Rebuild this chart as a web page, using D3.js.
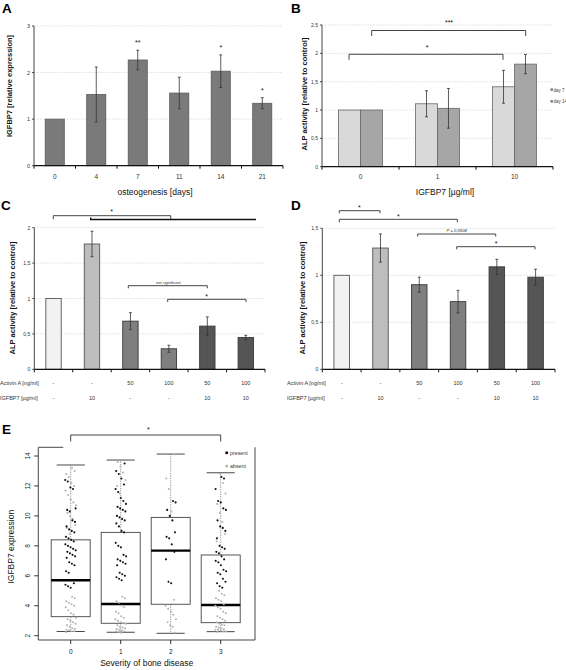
<!DOCTYPE html>
<html><head><meta charset="utf-8">
<script src="https://cdn.jsdelivr.net/npm/d3@7"></script>
<style>body{margin:0;background:#fff}svg{font-family:"Liberation Sans",Arial,sans-serif;display:block}</style>
</head><body><svg id="c" width="566" height="670"></svg>
<script>
// ---------- DATA ----------
const aDays = ["0","4","7","11","14","21"];
const aMean = [1.0,1.53,2.27,1.56,2.03,1.34];
const aErr  = [0,0.59,0.21,0.34,0.35,0.12];
const aStars = ["","","**","","*","*"];
const aTicks = [0,1,2,3];

const bDoses = ["0","1","10"];
const bSeries = ["day 7","day 14"];
const bDay7 = [1.0,1.11,1.41];
const bDay7Err = [0,0.23,0.29];
const bDay14 = [1.0,1.03,1.81];
const bDay14Err = [0,0.35,0.17];
const bTicks = [0,0.5,1,1.5,2,2.5];

const cdActivin = ["-","-","50","100","50","100"];
const cdIgfbp = ["-","10","-","-","10","10"];
const cMean = [1.0,1.77,0.68,0.29,0.61,0.45];
const cErr  = [0,0.18,0.12,0.05,0.13,0.03];
const cTicks = [0,0.5,1,1.5,2];
const dMean = [1.0,1.29,0.90,0.72,1.09,0.98];
const dErr  = [0,0.15,0.08,0.12,0.08,0.085];
const dTicks = [0,0.5,1,1.5];

const eGroups = ["0","1","2","3"];
const eLo  = [2.28,2.23,2.16,2.27];
const eQ1  = [3.27,2.83,4.10,2.87];
const eMed = [5.70,4.12,7.68,4.05];
const eQ3  = [8.40,8.90,9.90,7.39];
const eHi  = [13.4,13.73,14.13,12.88];
const eTicks = [2,4,6,8,10,12,14];
const ePresent = [
 [12.4,12.3,11.9,11.8,10.5,10.4,10.3,9.7,9.6,9.3,9.1,9.0,8.9,8.6,8.5,8.4,8.3,8.1,8.0,7.9,7.8,7.7,7.6,7.5,7.4,7.3,7.2,6.9,6.8,6.7,6.3,6.2,5.7,5.5,5.4,5.3,5.2],
 [13.5,13.0,12.8,12.5,12.1,11.8,11.6,11.2,11.0,10.8,10.6,10.5,10.4,10.3,10.0,9.9,9.8,9.7,9.5,9.3,9.0,8.9,8.2,8.0,7.9,7.4,7.3,7.1,7.0,6.9,6.8,6.7,6.2,6.1,6.0,5.9,5.8,5.7],
 [11.0,10.9,10.4,10.0,9.7,8.9,8.6,8.5,8.1,7.6,7.1,5.6,5.5],
 [12.6,12.5,11.8,11.0,10.9,10.5,10.4,9.7,9.3,9.2,9.0,8.5,8.0,7.9,7.8,7.6,7.5,7.3,7.1,7.0,6.9,6.7,6.4,6.3,6.2,6.1,5.8,5.6,5.5,5.3,5.2]
];
const eAbsent = [
 [13.2,13.0,12.8,12.6,12.2,12.0,11.7,11.4,11.1,10.9,10.7,10.2,10.0,9.8,9.4,9.2,8.8,4.6,4.5,4.3,4.2,4.1,4.0,3.9,3.7,3.5,3.4,3.2,3.1,3.0,2.9,2.8,2.7,2.6,2.5,2.45,2.4,2.35,2.3,2.3,2.25],
 [13.6,13.3,12.9,12.4,12.0,11.5,4.6,4.5,4.3,4.2,4.0,3.9,3.6,3.5,3.3,3.2,3.1,3.0,2.9,2.85,2.8,2.7,2.6,2.55,2.5,2.45,2.4,2.35,2.3,2.3,2.25,2.2],
 [14.1,12.5,11.8,10.3,4.4,4.0,3.8,3.6,3.4,3.1,2.9,2.7,2.6,2.2],
 [12.8,12.2,11.5,10.8,10.2,9.6,8.8,8.3,5.0,4.8,4.7,4.5,4.4,4.3,4.1,4.0,3.9,3.8,3.6,3.5,3.3,3.2,3.1,3.0,2.9,2.8,2.75,2.7,2.6,2.55,2.5,2.45,2.4,2.4,2.35,2.3,2.3,2.25]
];

// ---------- HELPERS ----------
const svg = d3.select("#c");
const fmt = d => String(d).replace(".", ",");
const TXT = "#333";

function letter(t, x, y){ svg.append("text").attr("x",x).attr("y",y).attr("font-size",13.5).attr("font-weight","bold").text(t); }
function grid(y, x0, x1, ticks){
  svg.append("g").selectAll("line").data(ticks.filter(t=>t>0)).join("line")
    .attr("x1",x0).attr("x2",x1).attr("y1",d=>y(d)).attr("y2",d=>y(d))
    .attr("stroke","#cfcfcf").attr("stroke-width",0.7).attr("stroke-dasharray","1.5,1.5");
}
function yAxis(y, x0, ticks, fs){
  const g = svg.append("g");
  g.append("line").attr("x1",x0).attr("x2",x0).attr("y1",y(0)).attr("y2",y(d3.max(ticks))).attr("stroke","#444").attr("stroke-width",1);
  g.selectAll(".t").data(ticks).join("line").attr("x1",x0-2).attr("x2",x0).attr("y1",d=>y(d)).attr("y2",d=>y(d)).attr("stroke","#444");
  g.selectAll("text").data(ticks).join("text").attr("x",x0-4).attr("y",d=>y(d)+2).attr("text-anchor","end")
    .attr("font-size",fs||5.5).attr("fill",TXT).text(d=>fmt(d));
}
function xAxis(x, yb){
  const g = svg.append("g");
  const r = x.range(), n = x.domain().length, st = x.step();
  g.append("line").attr("x1",r[0]).attr("x2",r[1]).attr("y1",yb).attr("y2",yb).attr("stroke","#111").attr("stroke-width",1.2);
  g.selectAll("line.t").data(d3.range(n+1)).join("line").attr("class","t")
    .attr("x1",i=>r[0]+i*st).attr("x2",i=>r[0]+i*st).attr("y1",yb).attr("y2",yb+3).attr("stroke","#111");
}
function err(cx, y1, y2){
  const g = svg.append("g").attr("stroke","#333").attr("stroke-width",0.8);
  g.append("line").attr("x1",cx).attr("x2",cx).attr("y1",y1).attr("y2",y2);
  g.append("line").attr("x1",cx-1.5).attr("x2",cx+1.5).attr("y1",y1).attr("y2",y1);
  g.append("line").attr("x1",cx-1.5).attr("x2",cx+1.5).attr("y1",y2).attr("y2",y2);
}
function bracket(x1, x2, y, d1, d2, w, col){
  svg.append("path").attr("d",`M${x1},${y+d1}V${y}H${x2}V${y+d2}`).attr("fill","none")
    .attr("stroke",col||"#444").attr("stroke-width",w||1);
}
function label(t, x, y, fs, opts){
  const s = svg.append("text").attr("x",x).attr("y",y).attr("font-size",fs).attr("text-anchor",(opts&&opts.anchor)||"middle").attr("fill",(opts&&opts.fill)||"#111").text(t);
  if(opts&&opts.bold) s.attr("font-weight","bold");
  if(opts&&opts.italic) s.attr("font-style","italic");
  return s;
}
function vlabel(t, x, y, fs, bold){
  svg.append("text").attr("transform",`translate(${x},${y}) rotate(-90)`).attr("text-anchor","middle")
    .attr("dominant-baseline","middle").attr("font-size",fs).attr("font-weight",bold?"bold":"normal").attr("fill","#111").text(t);
}

// ---------- PANEL A ----------
letter("A", 2, 12.7);
{
  const x = d3.scaleBand().domain(aDays).range([34, 283]).paddingInner(0.54).paddingOuter(0.27);
  const y = d3.scaleLinear().domain([0,3]).range([165.7, 26]);
  grid(y, 34, 283, aTicks);
  svg.append("g").selectAll("rect").data(aDays).join("rect")
    .attr("x",d=>x(d)).attr("width",x.bandwidth()).attr("y",(d,i)=>y(aMean[i])).attr("height",(d,i)=>y(0)-y(aMean[i]))
    .attr("fill","#7a7a7a").attr("stroke","#5a5a5a").attr("stroke-width",0.8);
  aDays.forEach((d,i)=>{ if(aErr[i]>0) err(x(d)+x.bandwidth()/2, y(aMean[i]+aErr[i]), y(aMean[i]-aErr[i])); });
  aDays.forEach((d,i)=>{ if(aStars[i]) label(aStars[i], x(d)+x.bandwidth()/2, y(aMean[i]+aErr[i])-5, 7); });
  xAxis(x, y(0));
  yAxis(y, 34, aTicks);
  svg.append("g").selectAll("text").data(aDays).join("text").attr("x",d=>x(d)+x.bandwidth()/2).attr("y",179)
    .attr("text-anchor","middle").attr("font-size",6.5).attr("fill",TXT).text(d=>d);
  label("osteogenesis [days]", 155, 195, 8.5);
  vlabel("IGFBP7 [relative expression]", 10, 86, 7.5, true);
}

// ---------- PANEL B ----------
letter("B", 291, 12.7);
{
  const x = d3.scaleBand().domain(bDoses).range([322, 553]).paddingInner(0.43).paddingOuter(0.215);
  const xs = d3.scaleBand().domain(bSeries).range([0, x.bandwidth()]);
  const y = d3.scaleLinear().domain([0,2.5]).range([166.7, 25]);
  const cols = ["#d9d9d9","#a6a6a6"];
  const vals = [bDay7, bDay14], errs = [bDay7Err, bDay14Err];
  grid(y, 322, 553, bTicks);
  bSeries.forEach((s,si)=>{
    svg.append("g").selectAll("rect").data(bDoses).join("rect")
      .attr("x",d=>x(d)+xs(s)).attr("width",xs.bandwidth()).attr("y",(d,i)=>y(vals[si][i])).attr("height",(d,i)=>y(0)-y(vals[si][i]))
      .attr("fill",cols[si]).attr("stroke","#666").attr("stroke-width",0.8);
  });
  bSeries.forEach((s,si)=>bDoses.forEach((d,i)=>{
    if(errs[si][i]>0) err(x(d)+xs(s)+xs.bandwidth()/2, y(vals[si][i]+errs[si][i]), y(vals[si][i]-errs[si][i]));
  }));
  xAxis(x, y(0));
  yAxis(y, 322, bTicks, 5);
  svg.append("g").selectAll("text").data(bDoses).join("text").attr("x",d=>x(d)+x.bandwidth()/2).attr("y",179)
    .attr("text-anchor","middle").attr("font-size",6.5).attr("fill",TXT).text(d=>d);
  label("IGFBP7 [µg/ml]", 445, 195, 8.5);
  vlabel("ALP activity [relative to control]", 305, 94, 7.5, true);
  // significance
  bracket(371.7, 525.7, 30.5, 5.5, 5.5);
  label("***", 449, 25, 7);
  bracket(349, 503, 54.3, 5.5, 5.5);
  label("*", 427, 50, 7);
  // legend
  bSeries.forEach((s,si)=>{
    const ly = [90, 101.7][si];
    svg.append("rect").attr("x",550.5).attr("y",ly-1.6).attr("width",2.4).attr("height",2.4).attr("fill","#777");
    label(s, 553.5, ly+1.6, 4.5, {anchor:"start", fill:"#444"});
  });
}

// ---------- PANELS C & D ----------
const cdCols = ["#f2f2f2","#bdbdbd","#7f7f7f","#7f7f7f","#555555","#555555"];
function cdPanel(x0, x1, ytop, maxV, mean, errs, ticks){
  const x = d3.scaleBand().domain(d3.range(6)).range([x0, x1]).paddingInner(0.6).paddingOuter(0.3);
  const y = d3.scaleLinear().domain([0,maxV]).range([369.3, ytop]);
  grid(y, x0, x1, ticks);
  svg.append("g").selectAll("rect").data(mean).join("rect")
    .attr("x",(d,i)=>x(i)).attr("width",x.bandwidth()).attr("y",d=>y(d)).attr("height",d=>y(0)-y(d))
    .attr("fill",(d,i)=>cdCols[i]).attr("stroke",(d,i)=>i<2?"#555":"#3a3a3a").attr("stroke-width",0.9);
  mean.forEach((m,i)=>{ if(errs[i]>0) err(x(i)+x.bandwidth()/2, y(m+errs[i]), y(m-errs[i])); });
  xAxis(x, y(0));
  yAxis(y, x0, ticks, 5);
  svg.append("g").selectAll("text").data(cdActivin).join("text").attr("x",(d,i)=>x(i)+x.bandwidth()/2).attr("y",385)
    .attr("text-anchor","middle").attr("font-size",5.5).attr("fill",TXT).text(d=>d);
  svg.append("g").selectAll("text").data(cdIgfbp).join("text").attr("x",(d,i)=>x(i)+x.bandwidth()/2).attr("y",399.5)
    .attr("text-anchor","middle").attr("font-size",5.5).attr("fill",TXT).text(d=>d);
  return {x,y};
}
letter("C", 1, 210);
{
  const {x,y} = cdPanel(34.3, 265, 227.7, 2, cMean, cErr, cTicks);
  label("Activin A [ng/ml]", 0, 385, 5.5, {anchor:"start", fill:TXT});
  label("IGFBP7 [µg/ml]", 0, 399.5, 5.5, {anchor:"start", fill:TXT});
  vlabel("ALP activity [relative to control]", 13.5, 298, 7.5, true);
  bracket(53.3, 170.7, 215.7, 3.5, 4.5);
  label("*", 111.7, 214, 7);
  bracket(90.7, 256, 219.5, -2, 0, 1.4, "#111");
  bracket(128.3, 207.3, 285.7, 2.6, 2.6);
  label("not significant", 168.3, 284, 4, {italic:true, fill:"#333"});
  bracket(167.7, 246, 299.3, 2.7, 2.7);
  label("*", 206.7, 298.5, 7);
}
letter("D", 291, 210);
{
  const {x,y} = cdPanel(322.3, 555, 228.3, 1.5, dMean, dErr, dTicks);
  label("Activin A [ng/ml]", 287, 385, 5.5, {anchor:"start", fill:TXT});
  label("IGFBP7 [µg/ml]", 287, 399.5, 5.5, {anchor:"start", fill:TXT});
  vlabel("ALP activity [relative to control]", 303.5, 298, 7.5, true);
  bracket(339.3, 380, 210.7, 2.6, 2.6);
  label("*", 359.3, 210, 7);
  bracket(339.3, 457.3, 219.3, 3, 3);
  label("*", 398.3, 219, 7);
  bracket(417.7, 495.7, 234, 2.5, 2.5);
  label("P = 0,0504", 456.7, 232.3, 4.2, {italic:true, fill:"#333"});
  bracket(456.7, 535, 246.7, 2.6, 2.6);
  label("*", 496, 246, 7);
}

// ---------- PANEL E ----------
letter("E", 2, 434);
{
  const x = d3.scaleBand().domain(eGroups).range([45.7, 245.7]).paddingInner(0.22).paddingOuter(0.11);
  const y = d3.scaleLinear().domain([2,14]).range([635.7, 456]);
  const bw = x.bandwidth();
  const cx = g => x(g) + bw/2;
  const L = 38.3, R = 255, T = 447.3, B = 640;
  // frame
  svg.append("path").attr("d",`M${L},${T}V${B}H${R}V${T}`).attr("fill","none").attr("stroke","#333").attr("stroke-width",0.9);
  svg.append("line").attr("x1",L).attr("x2",63.3).attr("y1",T).attr("y2",T).attr("stroke","#333").attr("stroke-width",0.9);
  // y axis ticks
  svg.append("g").selectAll("line").data(eTicks).join("line").attr("x1",L-4).attr("x2",L).attr("y1",d=>y(d)).attr("y2",d=>y(d)).attr("stroke","#333");
  svg.append("g").selectAll("text").data(eTicks).join("text")
    .attr("transform",d=>`translate(30,${y(d)}) rotate(-90)`).attr("text-anchor","middle").attr("font-size",6.5).attr("fill","#222").text(d=>d);
  // x ticks
  svg.append("g").selectAll("line").data(eGroups).join("line").attr("x1",cx).attr("x2",cx).attr("y1",B).attr("y2",B+4).attr("stroke","#333");
  svg.append("g").selectAll("text").data(eGroups).join("text").attr("x",cx).attr("y",654).attr("text-anchor","middle").attr("font-size",6.5).attr("fill","#222").text(d=>d);
  // boxes
  eGroups.forEach((g,i)=>{
    const c = cx(g), cap = bw*0.36;
    svg.append("line").attr("x1",c).attr("x2",c).attr("y1",y(eQ3[i])).attr("y2",y(eHi[i])).attr("stroke","#777").attr("stroke-width",0.8).attr("stroke-dasharray","1.2,1.2");
    svg.append("line").attr("x1",c).attr("x2",c).attr("y1",y(eQ1[i])).attr("y2",y(eLo[i])).attr("stroke","#777").attr("stroke-width",0.8).attr("stroke-dasharray","1.2,1.2");
    svg.append("line").attr("x1",c-cap).attr("x2",c+cap).attr("y1",y(eHi[i])).attr("y2",y(eHi[i])).attr("stroke","#333").attr("stroke-width",0.9);
    svg.append("line").attr("x1",c-cap).attr("x2",c+cap).attr("y1",y(eLo[i])).attr("y2",y(eLo[i])).attr("stroke","#333").attr("stroke-width",0.9);
    svg.append("rect").attr("x",x(g)).attr("width",bw).attr("y",y(eQ3[i])).attr("height",y(eQ1[i])-y(eQ3[i]))
      .attr("fill","none").attr("stroke","#444").attr("stroke-width",0.9);
    svg.append("line").attr("x1",x(g)).attr("x2",x(g)+bw).attr("y1",y(eMed[i])).attr("y2",y(eMed[i])).attr("stroke","#000").attr("stroke-width",2.4);
  });
  // jittered points (deterministic low-discrepancy offsets)
  const jit = k => (((k * 0.6180339887) % 1) - 0.5) * 11;
  eGroups.forEach((g,i)=>{
    svg.append("g").selectAll("circle").data(eAbsent[i]).join("circle")
      .attr("cx",(d,k)=>cx(g)+jit(k*2+1+i)).attr("cy",d=>y(d)).attr("r",1.05).attr("fill","#b5b5b5");
    svg.append("g").selectAll("circle").data(ePresent[i]).join("circle")
      .attr("cx",(d,k)=>cx(g)+jit(k*2+i*3)).attr("cy",d=>y(d)).attr("r",1.05).attr("fill","#111");
  });
  // legend
  svg.append("circle").attr("cx",226.7).attr("cy",452.7).attr("r",1.5).attr("fill","#111");
  label("present", 230, 454.6, 5.3, {anchor:"start", fill:"#333"});
  svg.append("circle").attr("cx",226.7).attr("cy",466).attr("r",1.5).attr("fill","#b5b5b5");
  label("absent", 230, 467.9, 5.3, {anchor:"start", fill:"#333"});
  // significance
  bracket(cx("0"), cx("3"), 435, 6.5, 6.5);
  label("*", 148.3, 432, 7);
  label("Severity of bone disease", 146.7, 666, 8.5);
  vlabel("IGFBP7 expression", 11.7, 546.7, 8.5, false);
}
</script></body></html>
